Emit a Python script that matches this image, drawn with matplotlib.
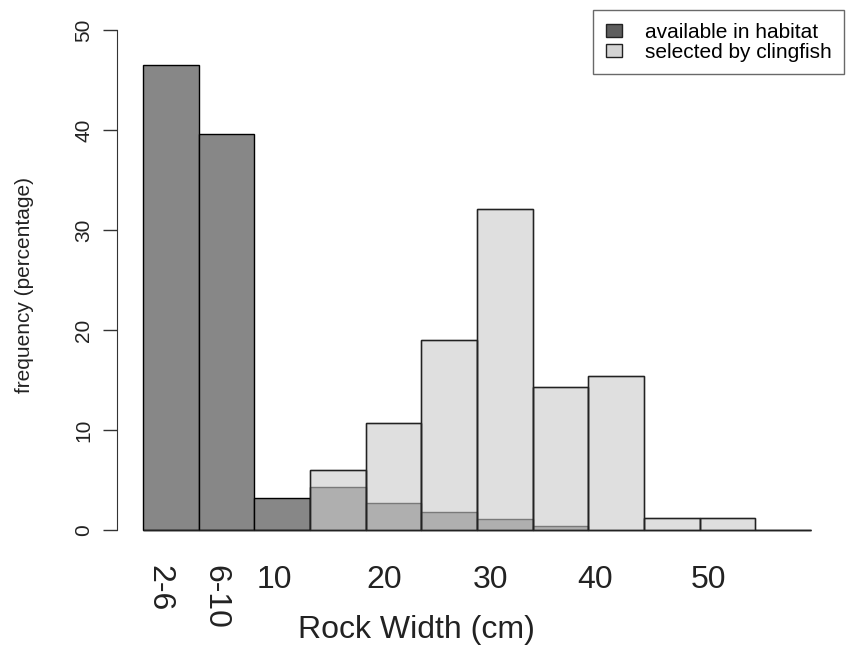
# rock width selection histogram (available vs selected)
import numpy as np
import matplotlib
matplotlib.use('Agg')
import matplotlib.pyplot as plt
from matplotlib.patches import Patch

plt.rcParams['font.family'] = ['Liberation Sans', 'DejaVu Sans']

# percentage per rock width bin (12 bins)
available = [46.5, 39.6, 3.2, 4.3, 2.7, 1.8, 1.1, 0.4, 0, 0, 0, 0]
selected = [0, 0, 0, 6.0, 10.7, 19.0, 32.1, 14.3, 15.4, 1.2, 1.2, 0]

tick_pos = [-0.2, 0.8, 1.86, 3.83, 5.75, 7.62, 9.65]
tick_lab = ['2-6', '6-10', '10', '20', '30', '40', '50']
yticks = [0, 10, 20, 30, 40, 50]

clr_avail = '#878787'
clr_sel = '#cbcbcb'

W, H = 848, 648
fig = plt.figure(figsize=(W / 100, H / 100), dpi=100)
ax = fig.add_axes([117 / W, (H - 530) / H, (820 - 117) / W, 500 / H])

x = np.arange(len(available))
ax.bar(x, available, width=1, color=clr_avail, edgecolor='black', linewidth=1, clip_on=False)
ax.bar(x, selected, width=1, color=clr_sel, alpha=0.6, edgecolor='black', linewidth=1, clip_on=False)
# outlines of the selected bars at full strength
ax.bar(x, selected, width=1, fill=False, edgecolor='#222222', linewidth=1, clip_on=False)

ax.set_xlim(-0.967, 11.66)
ax.set_ylim(0, 50)

for s in ['top', 'right', 'bottom']:
    ax.spines[s].set_visible(False)
ax.spines['left'].set_bounds(0, 50)
ax.spines['left'].set_color('#333333')

ax.set_yticks(yticks)
ax.set_yticklabels([str(v) for v in yticks], rotation=90, va='center', fontsize=15, color='#222222')
ax.tick_params(axis='y', length=10, width=1, color='#333333', pad=7)

ax.set_xticks(tick_pos)
ax.set_xticklabels(tick_lab, fontsize=23, color='#222222', va='top')
for lab in ax.get_xticklabels()[:2]:
    lab.set_rotation(-90)
ax.tick_params(axis='x', length=0, pad=25)

ax.set_xlabel('Rock Width (cm)', fontsize=23, color='#222222')
ax.xaxis.set_label_coords((416 - 117) / (820 - 117), (530 - 615) / 500)
ax.set_ylabel('frequency (percentage)', fontsize=15, color='#222222')
ax.yaxis.set_label_coords((34 - 117) / (820 - 117), 0.49)

handles = [Patch(facecolor='#5e5e5e', edgecolor='#222222', label='available in habitat'),
           Patch(facecolor='#d4d4d4', edgecolor='#222222', label='selected by clingfish')]
leg = fig.legend(handles=handles, loc='upper left', bbox_to_anchor=(593 / W, 1 - 10 / H),
                 fontsize=15, frameon=True, fancybox=False, borderaxespad=0,
                 handlelength=0.8, handleheight=0.6, handletextpad=1.1,
                 labelspacing=0.05, borderpad=0.6)
leg.get_frame().set_edgecolor('#444444')
leg.get_frame().set_linewidth(1)

fig.savefig('out.png', dpi=100)
